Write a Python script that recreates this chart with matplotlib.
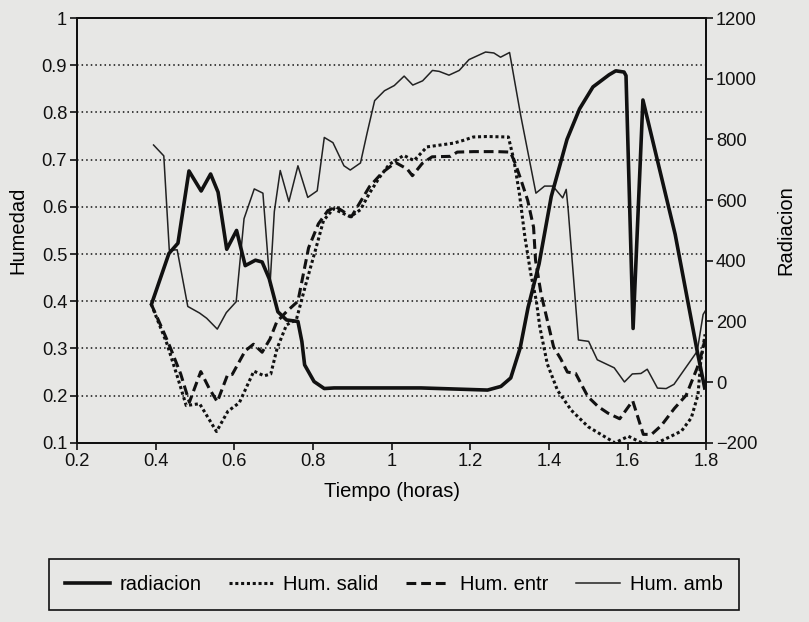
import matplotlib
matplotlib.use("Agg")
import matplotlib.pyplot as plt

plt.rcParams['font.family'] = ['Liberation Sans', 'DejaVu Sans']

# radiacion (eje derecho)
t_rad = [0.390, 0.434, 0.457, 0.485, 0.516, 0.540, 0.559, 0.581, 0.606, 0.628,
         0.654, 0.671, 0.689, 0.711, 0.733, 0.762, 0.772, 0.779, 0.803, 0.829,
         0.854, 1.075, 1.244, 1.278, 1.303, 1.327, 1.347, 1.375, 1.406, 1.446,
         1.478, 1.512, 1.553, 1.570, 1.591, 1.596, 1.614, 1.639, 1.721, 1.777, 1.796]
rad = [258, 424, 458, 696, 630, 686, 626, 438, 500, 384,
       402, 396, 341, 232, 205, 200, 134, 57, 2, -21,
       -19, -19, -26, -14, 14, 113, 246, 390, 612, 800,
       901, 973, 1013, 1026, 1022, 1010, 177, 930, 487, 102, -19]

# humedad ambiente
t_amb = [0.395, 0.421, 0.435, 0.455, 0.482, 0.512, 0.530, 0.557, 0.580, 0.605,
         0.625, 0.651, 0.673, 0.691, 0.702, 0.717, 0.739, 0.762, 0.787, 0.811,
         0.829, 0.851, 0.879, 0.895, 0.921, 0.938, 0.957, 0.982, 1.007, 1.032,
         1.054, 1.079, 1.104, 1.121, 1.146, 1.172, 1.197, 1.239, 1.260, 1.277,
         1.300, 1.328, 1.367, 1.389, 1.410, 1.435, 1.444, 1.449, 1.475, 1.501,
         1.523, 1.566, 1.592, 1.612, 1.634, 1.650, 1.676, 1.698, 1.718, 1.777,
         1.792, 1.800]
h_amb = [0.731, 0.708, 0.508, 0.509, 0.389, 0.375, 0.364, 0.341, 0.376, 0.399,
         0.575, 0.638, 0.629, 0.434, 0.590, 0.677, 0.611, 0.687, 0.620, 0.634,
         0.747, 0.736, 0.687, 0.678, 0.693, 0.757, 0.825, 0.846, 0.857, 0.877,
         0.858, 0.867, 0.889, 0.887, 0.879, 0.889, 0.912, 0.928, 0.926, 0.917,
         0.927, 0.795, 0.629, 0.644, 0.644, 0.619, 0.637, 0.594, 0.318, 0.315,
         0.276, 0.259, 0.229, 0.246, 0.247, 0.256, 0.216, 0.215, 0.224, 0.294,
         0.372, 0.383]

# humedad salida
t_sal = [0.389, 0.429, 0.456, 0.478, 0.512, 0.555, 0.584, 0.613, 0.650, 0.676,
         0.693, 0.709, 0.733, 0.758, 0.782, 0.806, 0.827, 0.852, 0.895, 0.921,
         0.944, 0.969, 0.994, 1.031, 1.057, 1.090, 1.124, 1.158, 1.183, 1.208,
         1.242, 1.297, 1.311, 1.325, 1.339, 1.354, 1.368, 1.377, 1.396, 1.422,
         1.457, 1.500, 1.534, 1.568, 1.602, 1.636, 1.670, 1.703, 1.737, 1.762,
         1.779, 1.786, 1.797]
h_sal = [0.394, 0.310, 0.239, 0.179, 0.183, 0.124, 0.167, 0.185, 0.252, 0.242,
         0.246, 0.300, 0.350, 0.361, 0.436, 0.507, 0.571, 0.596, 0.579, 0.594,
         0.629, 0.662, 0.690, 0.709, 0.698, 0.727, 0.731, 0.735, 0.741, 0.748,
         0.749, 0.748, 0.699, 0.628, 0.536, 0.458, 0.401, 0.345, 0.267, 0.211,
         0.169, 0.134, 0.117, 0.100, 0.114, 0.100, 0.098, 0.111, 0.125, 0.153,
         0.202, 0.273, 0.330]

# humedad entrada
t_ent = [0.389, 0.419, 0.437, 0.464, 0.486, 0.515, 0.536, 0.557, 0.583, 0.595,
         0.628, 0.649, 0.671, 0.691, 0.708, 0.733, 0.762, 0.789, 0.814, 0.838,
         0.859, 0.898, 0.944, 0.977, 1.010, 1.040, 1.053, 1.078, 1.103, 1.150,
         1.167, 1.209, 1.268, 1.302, 1.315, 1.329, 1.346, 1.361, 1.366, 1.380,
         1.412, 1.430, 1.447, 1.468, 1.499, 1.525, 1.550, 1.580, 1.613, 1.640,
         1.661, 1.686, 1.719, 1.749, 1.777, 1.789, 1.797]
h_ent = [0.394, 0.338, 0.303, 0.246, 0.186, 0.251, 0.216, 0.187, 0.244, 0.245,
         0.295, 0.309, 0.292, 0.320, 0.356, 0.378, 0.400, 0.513, 0.564, 0.592,
         0.600, 0.579, 0.643, 0.673, 0.694, 0.680, 0.666, 0.692, 0.706, 0.707,
         0.716, 0.717, 0.717, 0.716, 0.691, 0.657, 0.614, 0.557, 0.487, 0.416,
         0.303, 0.278, 0.250, 0.247, 0.198, 0.177, 0.163, 0.151, 0.189, 0.118,
         0.118, 0.137, 0.173, 0.201, 0.259, 0.291, 0.320]

x_ticks = [0.2, 0.4, 0.6, 0.8, 1.0, 1.2, 1.4, 1.6, 1.8]
x_labels = ['0.2', '0.4', '0.6', '0.8', '1', '1.2', '1.4', '1.6', '1.8']
y_ticks = [0.1, 0.2, 0.3, 0.4, 0.5, 0.6, 0.7, 0.8, 0.9, 1.0]
y_labels = ['0.1', '0.2', '0.3', '0.4', '0.5', '0.6', '0.7', '0.8', '0.9', '1']
r_ticks = [-200, 0, 200, 400, 600, 800, 1000, 1200]

fondo = '#e7e7e5'
fs_tick = 13.2
fs = 14.5

fig = plt.figure(figsize=(8.09, 6.22), dpi=100, facecolor=fondo)
ax = fig.add_axes([0.095, 0.288, 0.778, 0.683], facecolor=fondo)
ax2 = ax.twinx()

l_sal, = ax.plot(t_sal, h_sal, color='#111111', lw=2.2, linestyle=(0, (1, 0.9)), label='Hum. salid')
l_ent, = ax.plot(t_ent, h_ent, color='#111111', lw=2.2, linestyle=(0, (3.2, 1.6)), label='Hum. entr')
l_amb, = ax.plot(t_amb, h_amb, color='#222222', lw=1.1, label='Hum. amb')
l_rad, = ax2.plot(t_rad, rad, color='#111111', lw=2.6, label='radiacion')

ax.set_xlim(0.2, 1.8)
ax.set_ylim(0.1, 1.0)
ax2.set_ylim(-200, 1200)
ax.set_xticks(x_ticks)
ax.set_xticklabels(x_labels)
ax.set_yticks(y_ticks)
ax.set_yticklabels(y_labels)
ax2.set_yticks(r_ticks)

# rejilla punteada
ax.yaxis.grid(True, color='#111111', linestyle=(0, (1, 2)), lw=1.1)
ax.set_axisbelow(True)

for a in (ax, ax2):
    for s in a.spines.values():
        s.set_linewidth(1.4)
        s.set_color('#111111')
    a.tick_params(direction='out', length=5, width=1.2, labelsize=fs_tick, colors='#111111', pad=2)

ax.set_xlabel('Tiempo (horas)', fontsize=fs, labelpad=9)
ax.set_ylabel('Humedad', fontsize=fs, labelpad=10)
ax2.set_ylabel('Radiacion', fontsize=fs, labelpad=14)

leg = fig.legend([l_rad, l_sal, l_ent, l_amb], ['radiacion', 'Hum. salid', 'Hum. entr', 'Hum. amb'],
                 loc='center', bbox_to_anchor=(0.487, 0.06), ncol=4, fontsize=fs,
                 frameon=True, fancybox=False, edgecolor='#111111', facecolor=fondo, framealpha=1,
                 handlelength=2.2, handletextpad=0.5, columnspacing=1.35, borderpad=0.8)
leg.get_frame().set_linewidth(1.2)

fig.savefig('out.png', dpi=100, facecolor=fondo)
